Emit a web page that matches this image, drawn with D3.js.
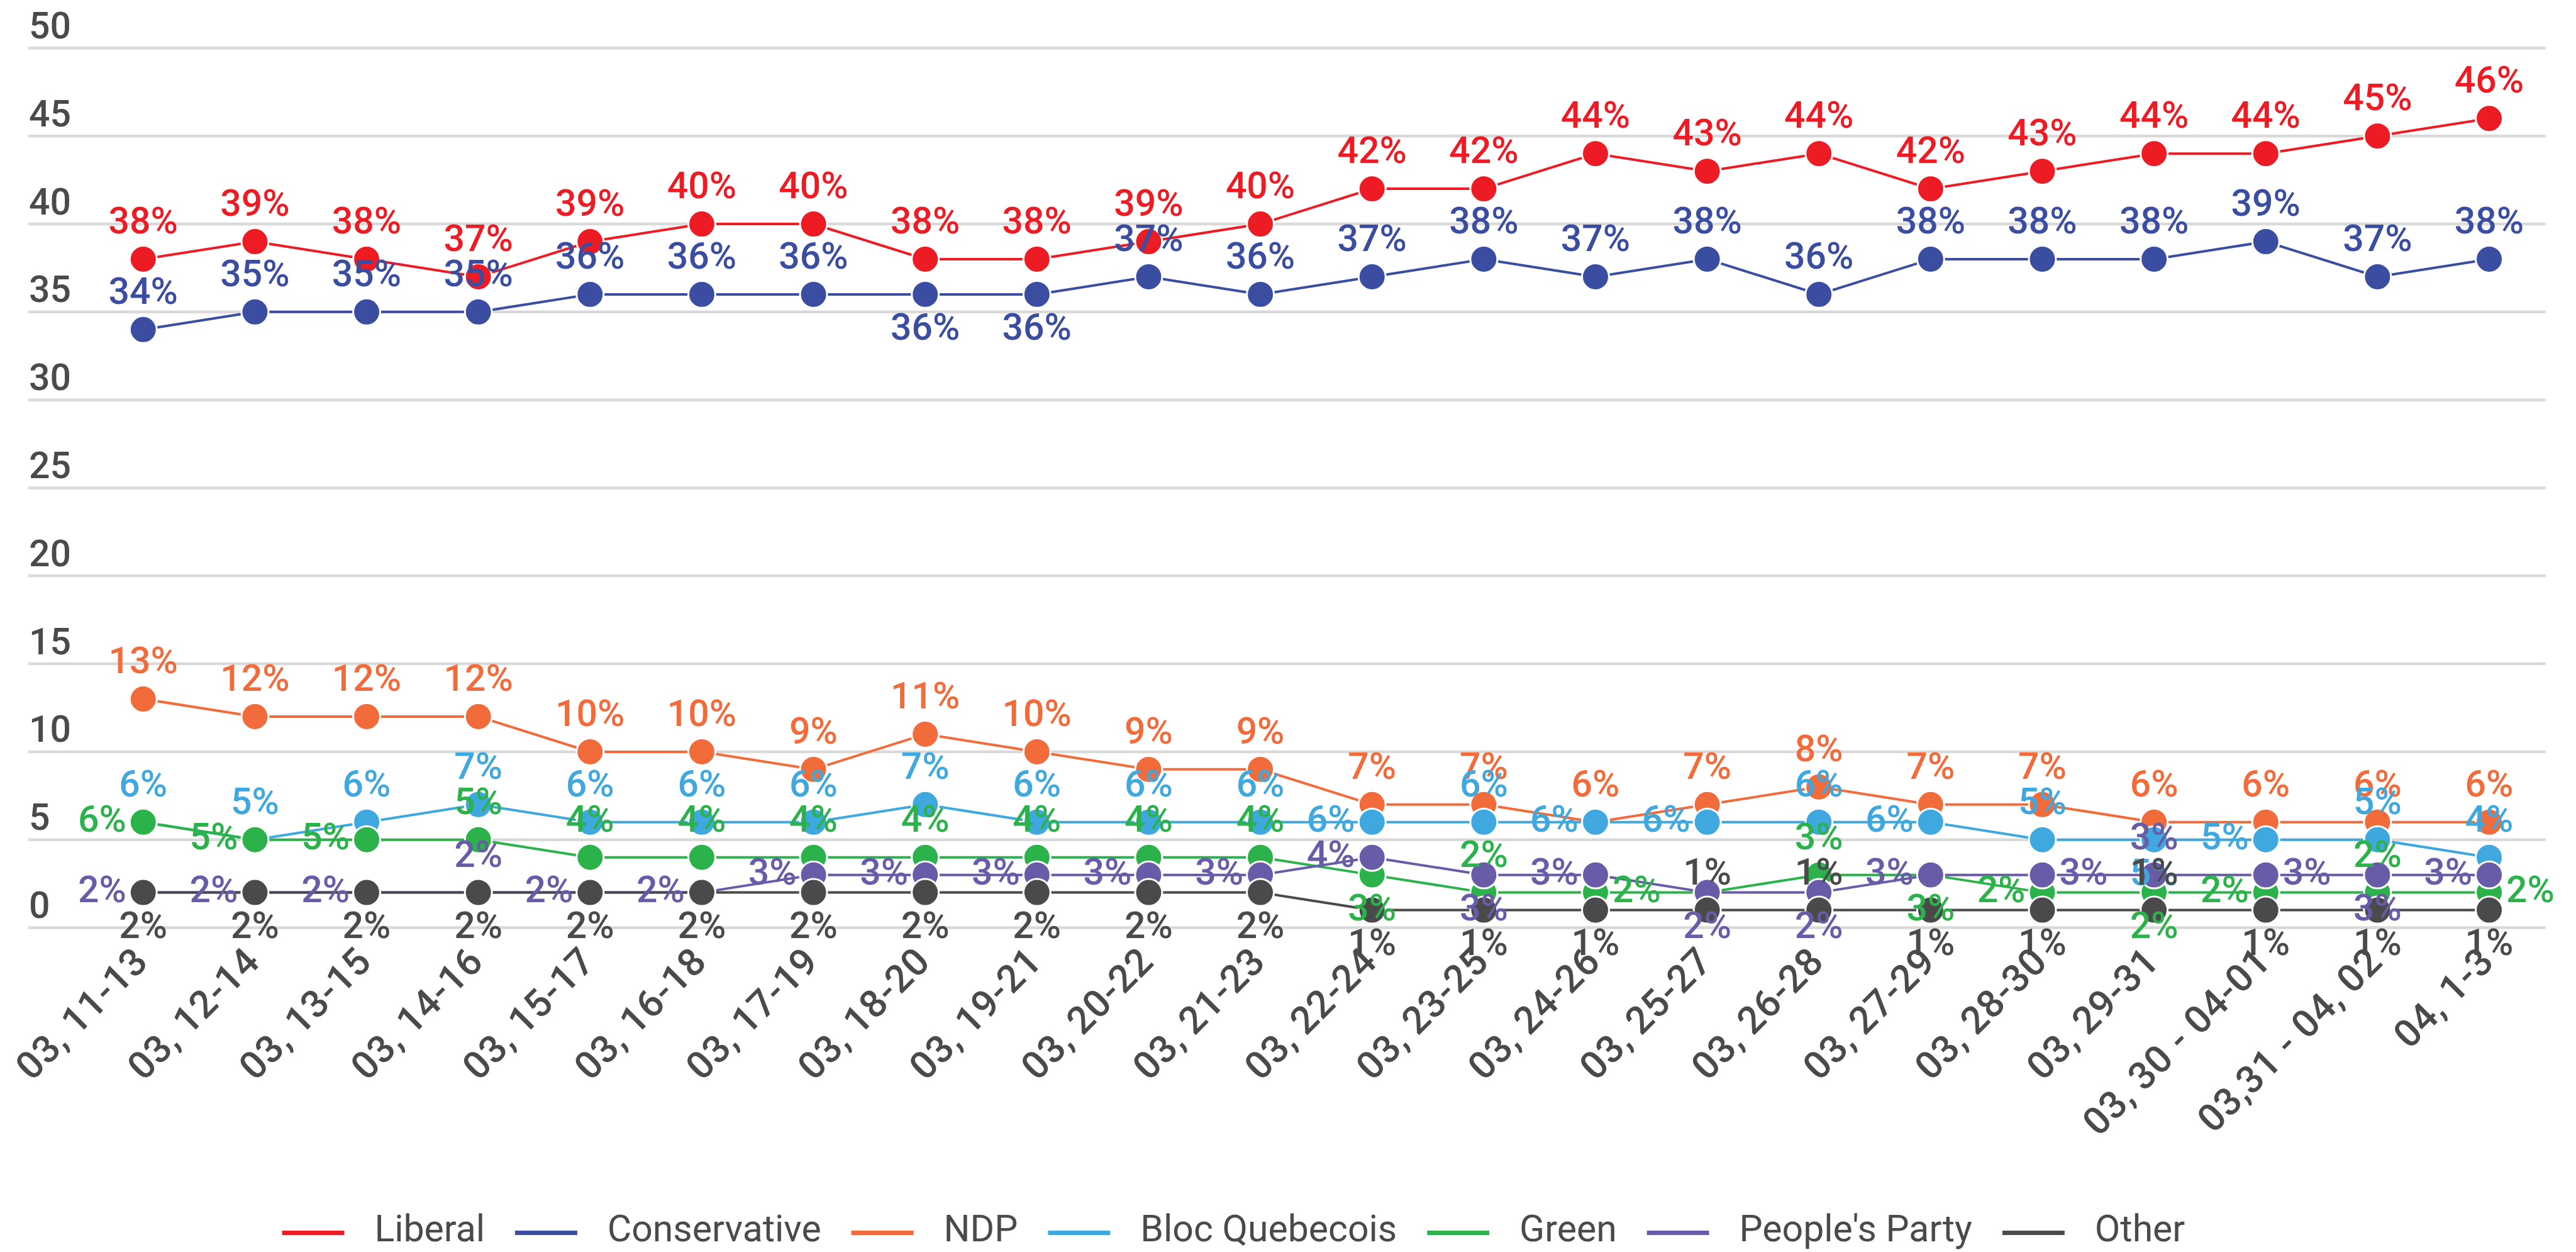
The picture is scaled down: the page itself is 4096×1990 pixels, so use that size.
<!DOCTYPE html>
<html>
<head>
<meta charset="utf-8">
<script src="https://cdn.jsdelivr.net/npm/d3@7"></script>
<style>
  html, body { margin: 0; padding: 0; background: #fff; overflow: hidden; }
  text { font-family: Roboto, "Noto Sans", sans-serif; }
</style>
</head>
<body>
<script>
// Poll dates (month, days)
const categories = ["03, 11-13", "03, 12-14", "03, 13-15", "03, 14-16", "03, 15-17", "03, 16-18",
  "03, 17-19", "03, 18-20", "03, 19-21", "03, 20-22", "03, 21-23", "03, 22-24", "03, 23-25",
  "03, 24-26", "03, 25-27", "03, 26-28", "03, 27-29", "03, 28-30", "03, 29-31",
  "03, 30 - 04-01", "03,31 - 04, 02", "04, 1-3"];

const liberal      = [38, 39, 38, 37, 39, 40, 40, 38, 38, 39, 40, 42, 42, 44, 43, 44, 42, 43, 44, 44, 45, 46];
const conservative = [34, 35, 35, 35, 36, 36, 36, 36, 36, 37, 36, 37, 38, 37, 38, 36, 38, 38, 38, 39, 37, 38];
const ndp          = [13, 12, 12, 12, 10, 10, 9, 11, 10, 9, 9, 7, 7, 6, 7, 8, 7, 7, 6, 6, 6, 6];
const bloc         = [6, 5, 6, 7, 6, 6, 6, 7, 6, 6, 6, 6, 6, 6, 6, 6, 6, 5, 5, 5, 5, 4];
const green        = [6, 5, 5, 5, 4, 4, 4, 4, 4, 4, 4, 3, 2, 2, 2, 3, 3, 2, 2, 2, 2, 2];
const peoples      = [2, 2, 2, 2, 2, 2, 3, 3, 3, 3, 3, 4, 3, 3, 2, 2, 3, 3, 3, 3, 3, 3];
const other        = [2, 2, 2, 2, 2, 2, 2, 2, 2, 2, 2, 1, 1, 1, 1, 1, 1, 1, 1, 1, 1, 1];

const yTicks = [0, 5, 10, 15, 20, 25, 30, 35, 40, 45, 50];

// where each value label sits around its marker: T(op) B(ottom) L(eft) R(ight), "-" = hidden
const series = [
  { name: "Liberal",         color: "#ED1C24", values: liberal,      side: "TTTTTTTTTTTTTTTTTTTTTT" },
  { name: "Conservative",    color: "#3A4DA0", values: conservative, side: "TTTTTTTBBTTTTTTTTTTTTT" },
  { name: "NDP",             color: "#F26B3B", values: ndp,          side: "TTTTTTTTTTTTTTTTTTTTTT" },
  { name: "Bloc Quebecois",  color: "#3EA8DF", values: bloc,         side: "TTTTTTTTTTTLTLLTLTBLTT" },
  { name: "Green",           color: "#2CB24B", values: green,        side: "LLLTTTTTTTTBTR-TBLBLTR" },
  { name: "People's Party",  color: "#685CA8", values: peoples,      side: "LLLTLLLLLLLLBLBBLRTRBL" },
  { name: "Other",           color: "#4A4A4A", values: other,        side: "BBBBBBBBBBBBBBTTBBTBBB" }
];

const k = 0.999;
const textColor = "#4a4a4a";

const svg = d3.select("body").append("svg")
  .attr("width", 4096)
  .attr("height", 1990);

const g = svg.append("g").attr("transform", `scale(${k})`);

const x = d3.scalePoint().domain(categories).range([228, 3962]);
const y = d3.scaleLinear().domain([0, 50]).range([1476, 76.5]);

// gridlines + y labels
const grid = g.append("g");
grid.selectAll("line")
  .data(yTicks)
  .join("line")
  .attr("x1", 45).attr("x2", 4052)
  .attr("y1", d => y(d)).attr("y2", d => y(d))
  .attr("stroke", "#d9d9d9")
  .attr("stroke-width", 4.5);
grid.selectAll("text")
  .data(yTicks)
  .join("text")
  .attr("x", 46)
  .attr("y", d => y(d) - 15.5)
  .attr("fill", textColor)
  .style("font-size", "59px")
  .style("font-weight", 500)
  .text(d => d);

// x labels, rotated
g.append("g").selectAll("text")
  .data(categories)
  .join("text")
  .attr("transform", d => `translate(${x(d) + 11},1533) rotate(-45)`)
  .attr("text-anchor", "end")
  .attr("fill", textColor)
  .style("font-size", "61px")
  .style("font-weight", 500)
  .style("letter-spacing", "1px")
  .text(d => d);

// lines and markers, one series after another
const line = d3.line().x((d, i) => x(categories[i])).y(d => y(d));
series.forEach(s => {
  const sg = g.append("g");
  sg.append("path")
    .attr("d", line(s.values))
    .attr("fill", "none")
    .attr("stroke", s.color)
    .attr("stroke-width", 4);
  sg.selectAll("circle")
    .data(s.values)
    .join("circle")
    .attr("cx", (d, i) => x(categories[i]))
    .attr("cy", d => y(d))
    .attr("r", 21.5)
    .attr("fill", s.color)
    .attr("stroke", "#fff")
    .attr("stroke-width", 3);
});

// value labels on top
series.forEach(s => {
  const pts = s.values.map((v, i) => ({ v, i, side: s.side[i] })).filter(p => p.side !== "-");
  g.append("g").selectAll("text")
    .data(pts)
    .join("text")
    .attr("x", p => {
      const cx = x(categories[p.i]);
      if (p.side === "L") return cx - 27;
      if (p.side === "R") return cx + 27;
      return cx;
    })
    .attr("y", p => {
      const cy = y(p.v);
      if (p.side === "T") return cy - 41;
      if (p.side === "B") return cy + 72;
      return cy + 15;
    })
    .attr("text-anchor", p => p.side === "L" ? "end" : p.side === "R" ? "start" : "middle")
    .attr("fill", s.color)
    .style("font-size", "59px")
    .style("font-weight", 500)
    .text(p => p.v + "%");
});

// legend: short line + name, laid out left to right
const legend = g.append("g");
let lx = 449;
series.forEach(s => {
  legend.append("rect")
    .attr("x", lx).attr("y", 1958)
    .attr("width", 99).attr("height", 7)
    .attr("fill", s.color);
  const t = legend.append("text")
    .attr("x", lx + 147)
    .attr("y", 1975)
    .attr("fill", textColor)
    .style("font-size", "59px")
    .text(s.name);
  lx += 147 + t.node().getComputedTextLength() + 48;
});
</script>
</body>
</html>
